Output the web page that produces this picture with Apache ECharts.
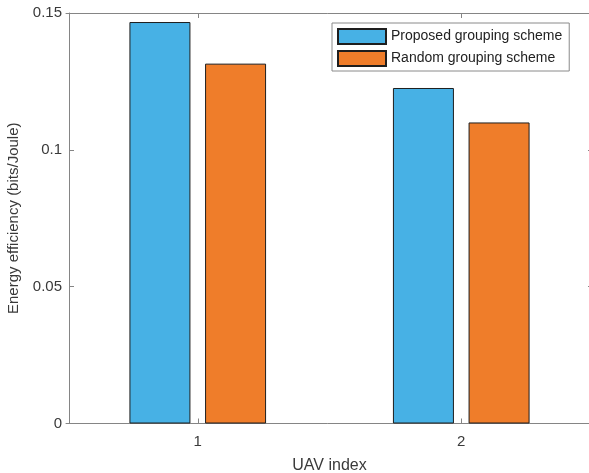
<!DOCTYPE html>
<html>
<head>
<meta charset="utf-8">
<script src="https://cdn.jsdelivr.net/npm/echarts@6/dist/echarts.min.js"></script>
<style>html,body{margin:0;padding:0;background:#fff}#c{width:589px;height:473px}</style>
</head>
<body>
<div id="c"></div>
<script>
var categories = ['1', '2'];
var proposed = [0.1467, 0.1226];
var random = [0.1315, 0.1100];
var seriesNames = ['Proposed grouping scheme', 'Random grouping scheme'];
var yTicks = [0, 0.05, 0.1, 0.15];

var FONT = '"Liberation Sans", Arial, Helvetica, sans-serif';
var TXT = '#3a3a3a';
var LINE = '#858585';

var chart = echarts.init(document.getElementById('c'), null, {renderer: 'canvas'});
chart.setOption({
  animation: false,
  backgroundColor: '#fff',
  textStyle: {fontFamily: FONT},
  grid: {left: 66, width: 527, top: 13, height: 410.5, containLabel: false, outerBoundsMode: 'none'},
  legend: {
    orient: 'vertical', left: 332, top: 23,
    itemWidth: 48, itemHeight: 15, itemGap: 5,
    padding: [5, 7, 4, 5],
    borderColor: '#8a8a8a', borderWidth: 1, backgroundColor: '#fff',
    icon: 'rect',
    textStyle: {fontFamily: FONT, fontSize: 14, color: '#222', padding: [0,0,0,0]},
    data: seriesNames
  },
  xAxis: [{
    type: 'category', data: categories, position: 'bottom',
    name: 'UAV index', nameLocation: 'middle', nameGap: 34,
    nameTextStyle: {fontFamily: FONT, fontSize: 16, color: TXT},
    axisLine: {show: true, onZero: false, lineStyle: {color: LINE, width: 1}},
    axisTick: {show: true, inside: true, length: 5, alignWithLabel: true, lineStyle: {color: LINE}},
    axisLabel: {fontFamily: FONT, fontSize: 15, color: TXT, margin: 11},
    splitLine: {show: false}
  }, {
    type: 'category', data: categories, position: 'top',
    axisLine: {show: true, onZero: false, lineStyle: {color: LINE, width: 1}},
    axisTick: {show: true, inside: true, length: 5, alignWithLabel: true, lineStyle: {color: LINE}},
    axisLabel: {show: false}, splitLine: {show: false}
  }],
  yAxis: [{
    type: 'value', min: yTicks[0], max: yTicks[yTicks.length - 1], interval: 0.05,
    position: 'left', offset: -3,
    name: 'Energy efficiency (bits/Joule)', nameLocation: 'middle', nameGap: 48,
    nameTextStyle: {fontFamily: FONT, fontSize: 15, color: TXT},
    axisLine: {show: true, onZero: false, lineStyle: {color: LINE, width: 1}},
    axisTick: {show: true, inside: true, length: 5, lineStyle: {color: LINE}},
    axisLabel: {fontFamily: FONT, fontSize: 15, color: TXT, margin: 7,
      formatter: function (v) { return String(+v.toFixed(2)); }},
    splitLine: {show: false}
  }, {
    type: 'value', min: yTicks[0], max: yTicks[yTicks.length - 1], interval: 0.05,
    position: 'right',
    axisLine: {show: true, onZero: false, lineStyle: {color: LINE, width: 1}},
    axisTick: {show: true, inside: true, length: 5, lineStyle: {color: LINE}},
    axisLabel: {show: false}, splitLine: {show: false}
  }],
  series: [{
    name: seriesNames[0], type: 'bar', data: proposed,
    barWidth: 61, barGap: '24%',
    itemStyle: {color: '#47B1E5', borderColor: '#1e1e1e', borderWidth: 1}
  }, {
    name: seriesNames[1], type: 'bar', data: random,
    barWidth: 61, barGap: '24%',
    itemStyle: {color: '#EF7D2A', borderColor: '#1e1e1e', borderWidth: 1}
  }]
});
</script>
</body>
</html>
